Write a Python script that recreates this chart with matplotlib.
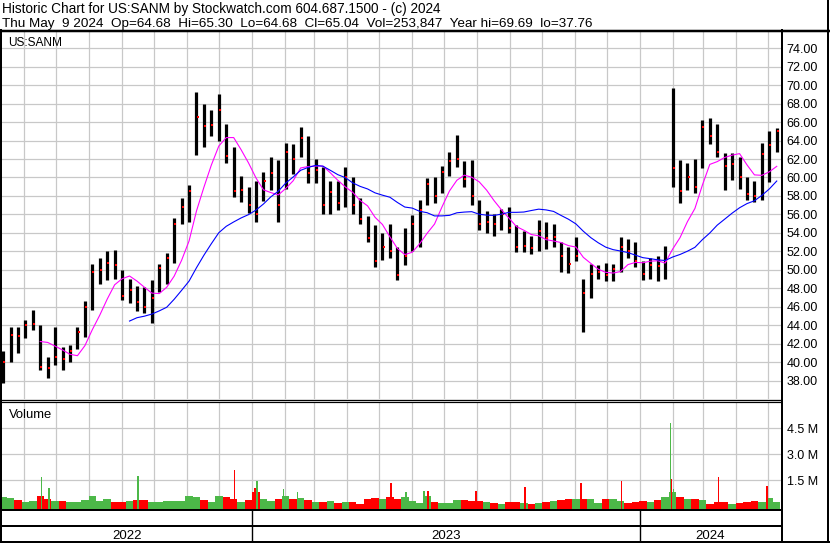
import numpy as np
import pandas as pd
import matplotlib
matplotlib.use("Agg")
import matplotlib.pyplot as plt
import matplotlib.dates as mdates
from matplotlib.lines import Line2D

W, H = 830, 543

# one bar per trading week (dated on the Thursday)
week_start = "2022-05-12"
high = [41.2, 43.8, 43.8, 44.6, 45.7, 44.0, 40.6, 43.8, 41.7, 41.9,
        43.8, 46.6, 50.6, 51.3, 52.0, 52.2, 50.0, 49.0, 48.3, 48.2,
        48.9, 50.6, 51.8, 55.6, 57.8, 59.2, 69.2, 68.0, 67.3, 69.0,
        65.8, 63.3, 60.2, 59.0, 59.6, 60.6, 62.2, 61.9, 63.7, 63.6,
        65.5, 64.5, 62.0, 61.1, 59.6, 59.6, 61.1, 60.0, 57.8, 55.8,
        54.9, 54.0, 55.0, 52.5, 54.5, 55.9, 57.6, 59.9, 60.0, 61.2,
        62.8, 64.6, 61.8, 61.9, 57.6, 56.4, 56.0, 56.6, 56.8, 54.9,
        54.2, 53.7, 55.4, 55.2, 55.0, 53.0, 52.5, 53.6, 49.0, 50.6,
        50.5, 50.8, 50.6, 53.6, 53.4, 53.0, 51.0, 51.3, 51.5, 52.6,
        69.7, 61.9, 61.6, 62.0, 66.2, 66.4, 65.8, 62.6, 62.6, 62.2,
        60.0, 59.6, 63.7, 65.0, 65.3]
low = [37.8, 40.0, 41.0, 42.6, 43.5, 39.2, 38.3, 39.7, 39.2, 40.0,
       41.5, 42.8, 45.7, 48.5, 48.9, 49.0, 46.8, 46.4, 45.6, 45.3,
       44.3, 47.6, 48.5, 50.8, 55.0, 55.2, 62.4, 63.3, 64.5, 64.0,
       61.6, 57.9, 57.3, 56.2, 55.2, 57.5, 58.6, 55.2, 58.8, 60.4,
       62.2, 59.4, 59.4, 56.0, 56.0, 56.5, 56.8, 56.0, 55.0, 53.0,
       50.3, 51.1, 51.3, 48.9, 50.5, 52.0, 52.5, 57.0, 57.2, 58.3,
       60.2, 61.1, 59.0, 57.0, 54.3, 54.0, 53.7, 54.3, 54.0, 51.9,
       51.9, 51.7, 52.0, 52.3, 52.5, 49.8, 49.7, 51.0, 43.3, 47.0,
       49.0, 48.8, 48.8, 49.8, 51.3, 50.3, 48.9, 49.0, 48.8, 49.0,
       59.0, 57.2, 58.6, 58.3, 61.0, 63.6, 62.2, 58.6, 59.7, 58.8,
       57.6, 57.4, 57.6, 59.5, 62.8]
close = [40.0, 43.0, 42.9, 44.0, 44.2, 39.5, 39.4, 40.6, 40.4, 41.2,
         43.3, 46.0, 49.8, 50.0, 50.8, 50.5, 47.2, 47.8, 46.5, 46.0,
         47.0, 50.2, 51.3, 55.0, 56.8, 58.5, 66.5, 65.6, 65.7, 67.3,
         62.3, 58.5, 58.6, 57.0, 56.0, 59.6, 60.5, 57.0, 62.8, 62.0,
         64.3, 60.5, 60.8, 57.0, 58.4, 57.2, 60.0, 57.0, 55.5, 53.5,
         51.0, 52.5, 52.0, 49.5, 51.5, 55.0, 56.5, 59.3, 58.0, 60.6,
         61.8, 62.0, 59.8, 58.0, 55.0, 55.2, 55.0, 56.0, 54.5, 52.5,
         52.6, 52.4, 54.2, 53.5, 53.6, 51.5, 50.6, 51.5, 47.5, 49.6,
         49.8, 49.5, 50.1, 52.5, 52.0, 51.0, 49.6, 50.5, 50.4, 51.0,
         61.0, 58.5, 60.0, 59.0, 65.5, 64.5, 62.8, 61.2, 61.5, 60.0,
         58.2, 58.0, 62.5, 63.5, 65.04]
# typical daily volume of each week, millions
volume = [0.55, 0.5, 0.35, 0.25, 0.3, 0.6, 0.45, 0.3, 0.3, 0.25,
          0.25, 0.35, 0.6, 0.3, 0.45, 0.25, 0.25, 0.3, 0.35, 0.35,
          0.25, 0.25, 0.3, 0.3, 0.3, 0.6, 0.55, 0.35, 0.25, 0.6,
          0.55, 0.45, 0.25, 0.35, 0.8, 0.45, 0.3, 0.4, 0.6, 0.4,
          0.5, 0.35, 0.25, 0.25, 0.3, 0.2, 0.25, 0.25, 0.15, 0.4,
          0.5, 0.4, 0.55, 0.45, 0.55, 0.3, 0.2, 0.6, 0.25, 0.2,
          0.2, 0.35, 0.35, 0.3, 0.3, 0.25, 0.2, 0.15, 0.25, 0.25,
          0.2, 0.12, 0.2, 0.25, 0.3, 0.35, 0.45, 0.4, 0.45, 0.45,
          0.2, 0.45, 0.45, 0.3, 0.2, 0.25, 0.3, 0.25, 0.35, 0.55,
          0.8, 0.55, 0.4, 0.45, 0.35, 0.15, 0.25, 0.25, 0.15, 0.2,
          0.25, 0.3, 0.25, 0.5, 0.25]

# single days that stick out of the volume panel
spike_dates = ["2022-06-17", "2022-06-24", "2022-09-16", "2022-12-16",
               "2023-01-04", "2023-01-06", "2023-01-31", "2023-02-13",
               "2023-05-12", "2023-05-26", "2023-06-12", "2023-06-16",
               "2023-07-31", "2023-09-15", "2023-11-07", "2023-12-15",
               "2024-01-30", "2024-01-31", "2024-02-02", "2024-03-15",
               "2024-04-30"]
spike_vol = [1.71, 1.04, 1.75, 2.10, 1.08, 1.46, 1.00, 0.81, 1.35, 0.81,
             0.88, 0.88, 0.88, 1.12, 1.35, 1.46, 4.79, 1.58, 1.00, 1.69,
             1.17]
spike_up = [True, True, True, False, False, True, True, True, False, True,
            True, False, False, False, False, False, True, False, True, False,
            False]

header1 = "Historic Chart for US:SANM by Stockwatch.com 604.687.1500 - (c) 2024"
header2 = ("Thu May  9 2024  Op=64.68  Hi=65.30  Lo=64.68  Cl=65.04  "
           "Vol=253,847  Year hi=69.69  lo=37.76")
years = ["2022", "2023", "2024"]
year_edges = ["2022-05-11", "2023-01-01", "2024-01-01", "2024-05-13"]
price_ticks = np.arange(38, 75, 2)
vol_ticks = [1.5, 3.0, 4.5]

GREEN = "#4cb848"
RED = "#ff0000"
GRID = "#c8c8c8"

plt.rcParams["font.family"] = ["Liberation Sans", "DejaVu Sans"]
plt.rcParams["font.size"] = 9

dates = pd.date_range(week_start, periods=len(close), freq="7D")
x = mdates.date2num(dates)
cl = pd.Series(close)
ma_short = cl.rolling(6).mean()
ma_long = cl.rolling(18).mean()
up = np.r_[True, np.diff(close) >= 0]
edges = mdates.date2num(pd.to_datetime(year_edges))

fig = plt.figure(figsize=(W / 100, H / 100), dpi=100)


def rect(x0, y0, x1, y1):
    return [x0 / W, 1 - y1 / H, (x1 - x0) / W, (y1 - y0) / H]


def fline(xs, ys, lw=1.0):
    fig.add_artist(Line2D([v / W for v in xs], [1 - v / H for v in ys],
                          color="k", lw=lw * 0.72, transform=fig.transFigure))


ax = fig.add_axes(rect(2, 31, 781, 399))
axv = fig.add_axes(rect(2, 402, 781, 509))
axd = fig.add_axes(rect(2, 509, 781, 542))

for a in (ax, axv, axd):
    a.set_xlim(edges[0], edges[-1])
    for s in a.spines.values():
        s.set_visible(False)

# price panel
ax.set_ylim(36.05, 75.84)
ax.set_yticks(price_ticks)
ax.set_yticklabels([f"{v:.2f}" for v in price_ticks])
for a in (ax, axv):
    a.xaxis.set_major_locator(mdates.MonthLocator())
    a.set_xticklabels([])
    a.yaxis.tick_right()
    a.tick_params(length=0, pad=4, labelsize=9)
    a.grid(True, color=GRID, lw=0.9)
    a.set_axisbelow(True)

ax.vlines(x, low, high, color="k", lw=2.3)
ax.plot(x + 1.0, close, "s", color=RED, ms=1.6, mew=0)
ax.plot(x, ma_short, color="#ff00ff", lw=0.8)
ax.plot(x, ma_long, color="#0000ff", lw=0.8)

# volume panel
vmin = -0.156
axv.set_ylim(vmin, 6.02)
axv.set_yticks(vol_ticks)
axv.set_yticklabels([f"{v:.1f} M" for v in vol_ticks])
axv.bar(x, np.array(volume) - vmin, bottom=vmin, width=7,
        color=[GREEN if u else RED for u in up], lw=0)
sx = mdates.date2num(pd.to_datetime(spike_dates))
axv.bar(sx, np.array(spike_vol) - vmin, bottom=vmin, width=1.4,
        color=[GREEN if u else RED for u in spike_up], lw=0)

# date strip
axd.set_ylim(0, 1)
axd.set_xticks([])
axd.set_yticks([])
for e in edges[1:-1]:
    axd.axvline(e, color="k", lw=1.0)
for i, yr in enumerate(years):
    axd.text((edges[i] + edges[i + 1]) / 2, 0.09, yr, ha="center",
             va="baseline", fontsize=9.5)

# texts
fig.text(2 / W, 1 - 13 / H, header1, va="baseline", fontsize=9.8)
fig.text(2 / W, 1 - 26.7 / H, header2, va="baseline", fontsize=9.7)
fig.text(8 / W, 1 - 45.7 / H, "US:SANM", va="baseline", fontsize=8.6)
fig.text(9 / W, 1 - 418 / H, "Volume", va="baseline", fontsize=9.4)

# frame lines
fline([0, 830], [30.5, 30.5], 2.5)
fline([1, 1], [30, 543], 2)
fline([828, 828], [0, 543], 2)
fline([781.5, 781.5], [30, 542], 2)
fline([0, 781], [399.6, 399.6], 1.3)
fline([0, 781], [401.6, 401.6], 1.2)
fline([0, 781], [509.7, 509.7], 2)
fline([0, 781], [526.2, 526.2], 2)
fline([0, 830], [541.8, 541.8], 2)

fig.savefig("out.png", dpi=100)
